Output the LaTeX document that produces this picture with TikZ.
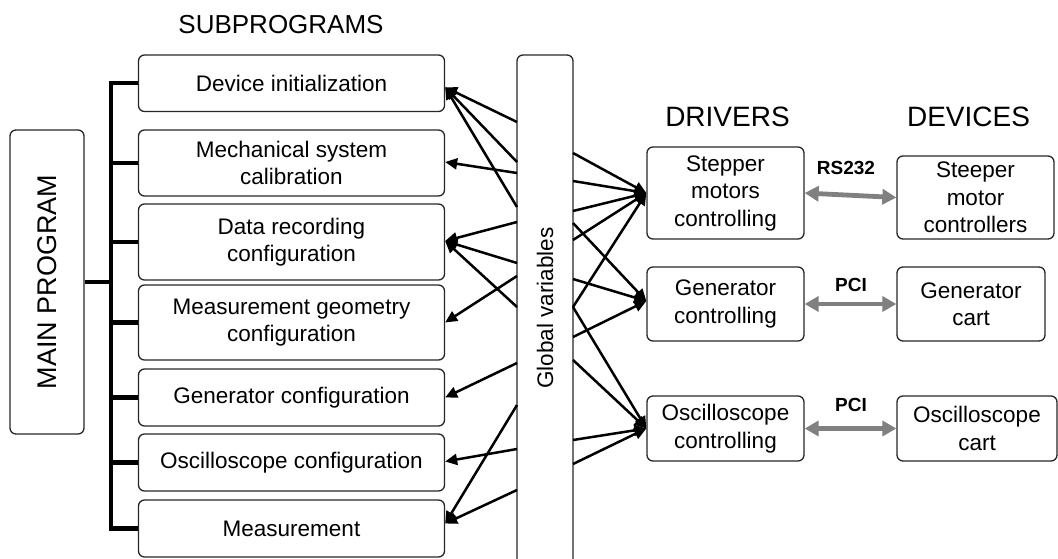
\documentclass[tikz,border=0pt]{standalone}
\usepackage{fontspec}
\setmainfont{Liberation Sans}
\usetikzlibrary{arrows.meta,calc}
\begin{document}
\begin{tikzpicture}[x=1pt,y=-1pt,
  box/.style={draw=black!85, line width=1.3pt, rounded corners=6pt, align=center, inner sep=0pt, font=\fontsize{22.5}{27.5}\selectfont},
  conn/.style={line width=2.5pt, -{Triangle[length=12pt,width=11pt]}},
  bus/.style={line width=4.4pt},
  garrow/.style={draw=gray, line width=4.8pt, {Triangle[length=14pt,width=15pt]}-{Triangle[length=14pt,width=15pt]}},
  head/.style={font=\fontsize{27}{32}\selectfont, inner sep=0pt},
  lbl/.style={font=\bfseries\fontsize{19}{22}\selectfont, inner sep=0pt}]
\useasboundingbox (0,0) rectangle (1058,558);
\clip (0,0) rectangle (1058,558);

% headings
\node[head, font=\fontsize{26}{30}\selectfont] (hsub) at (281,24.5) {SUBPROGRAMS};
\node[head, font=\fontsize{28}{32}\selectfont] (hdrv) at (727.5,117) {DRIVERS};
\node[head, font=\fontsize{28}{32}\selectfont] (hdev) at (968.5,117) {DEVICES};

% main program
\node[box, minimum width=74pt, minimum height=304pt] (main) at (47,282) {};
\node[rotate=90, inner sep=0pt, font=\fontsize{27}{32}\selectfont] (maintxt) at (main.center) {MAIN PROGRAM};

% subprograms
\node[box, minimum width=306pt, minimum height=56.5pt] (dev)  at (291.5,83.25) {Device initialization};
\node[box, minimum width=306pt, minimum height=66pt]   (mech) at (291.5,163)   {Mechanical system\\calibration};
\node[box, minimum width=306pt, minimum height=76pt]   (data) at (291.5,242)   {Data recording\\configuration};
\node[box, minimum width=306pt, minimum height=75pt]   (geom) at (291.5,322.5) {Measurement geometry\\configuration};
\node[box, minimum width=306pt, minimum height=57pt]   (gen)  at (291.5,397.5) {Generator configuration};
\node[box, minimum width=306pt, minimum height=57pt]   (osc)  at (291.5,462.5) {Oscilloscope configuration};
\node[box, minimum width=306pt, minimum height=57pt]   (meas) at (291.5,528.5) {Measurement};

% bus
\coordinate (bustop) at (111,83);
\draw[bus, line cap=rect] (dev.west -| bustop) -- (meas.west -| bustop);
\foreach \n in {dev,mech,data,geom,gen,osc,meas}{
  \draw[bus] (\n.west -| bustop) -- (\n.west);
}
\draw[bus] (main.east) -- (main.east -| bustop);

% global variables
\node[box, minimum width=56pt, minimum height=511pt] (gv) at (545,310.5) {};
\node[rotate=90, inner sep=0pt, font=\fontsize{22.5}{27}\selectfont] (gvtxt) at (545,308) {Global variables};

% drivers
\node[box, minimum width=157pt, minimum height=92pt] (drv1) at (725.5,193)   {Stepper\\motors\\controlling};
\node[box, minimum width=157pt, minimum height=74pt] (drv2) at (725.5,304)   {Generator\\controlling};
\node[box, minimum width=157pt, minimum height=65pt] (drv3) at (725.5,428.5) {Oscilloscope\\controlling};

% devices
\node[box, minimum width=157pt, minimum height=83pt] (dv1) at (975.5,197.5) {Steeper\\motor\\controllers};
\node[box, minimum width=148pt, minimum height=74pt] (dv2) at (971,304)     {Generator\\cart};
\node[box, minimum width=160pt, minimum height=65pt] (dv3) at (977,428.5)   {Oscilloscope\\cart};

% left-side connection points on global variables
\coordinate (gl1) at (517,122);
\coordinate (gl2) at (517,162);
\coordinate (gl3) at (517,207);
\coordinate (gl4) at (517,173);
\coordinate (gl5) at (517,222);
\coordinate (gl6) at (517,263);
\coordinate (gl7) at (517,307);
\coordinate (gl8) at (517,276);
\coordinate (gl9) at (517,363);
\coordinate (gl10) at (517,449);
\coordinate (gl11) at (517,405);
\coordinate (gl12) at (517,490);

\draw[conn] (gl1) -- ([yshift=-4pt]dev.east);
\draw[conn] (gl2) -- ([yshift=-4pt]dev.east);
\draw[conn] (gl3) -- ([yshift=-4pt]dev.east);
\draw[conn] (gl4) -- ([yshift=1pt]mech.east);
\draw[conn] (gl5) -- ([yshift=1pt]data.east);
\draw[conn] (gl6) -- ([yshift=1pt]data.east);
\draw[conn] (gl7) -- ([yshift=1pt]data.east);
\draw[conn] (gl8) -- (geom.east);
\draw[conn] (gl9) -- (gen.east);
\draw[conn] (gl10) -- ([yshift=1pt]osc.east);
\draw[conn] (gl11) -- ([yshift=5pt]meas.east);
\draw[conn] (gl12) -- ([yshift=5pt]meas.east);

% right-side connection points on global variables
\coordinate (gr1) at (573,153);
\coordinate (gr2) at (573,181);
\coordinate (gr3) at (573,211);
\coordinate (gr4) at (573,223);
\coordinate (gr5) at (573,240);
\coordinate (gr6) at (573,279);
\coordinate (gr7) at (573,307);
\coordinate (gr8) at (573,337);
\coordinate (gr9) at (573,360);
\coordinate (gr10) at (573,440);
\coordinate (gr11) at (573,464);

\draw[conn] (gr1) -- (drv1.west);
\draw[conn] (gr2) -- (drv1.west);
\draw[conn] (gr3) -- (drv1.west);
\draw[conn] (gr5) -- (drv1.west);
\draw[conn] (gr7) -- (drv1.west);
\draw[conn] (gr4) -- ([yshift=3pt]drv2.west);
\draw[conn] (gr6) -- ([yshift=3pt]drv2.west);
\draw[conn] (gr8) -- ([yshift=3pt]drv2.west);
\draw[conn] (gr7) -- (drv3.west);
\draw[conn] (gr9) -- (drv3.west);
\draw[conn] (gr10) -- (drv3.west);
\draw[conn] (gr11) -- (drv3.west);

% driver-device links
\draw[garrow] (drv1.east) -- (dv1.west);
\draw[garrow] (drv2.east) -- (dv2.west);
\draw[garrow] (drv3.east) -- (dv3.west);
\node[lbl] (lrs) at (846,168) {RS232};
\node[lbl] (lpci1) at (851,285) {PCI};
\node[lbl] (lpci2) at (851,405) {PCI};
\end{tikzpicture}
\end{document}
